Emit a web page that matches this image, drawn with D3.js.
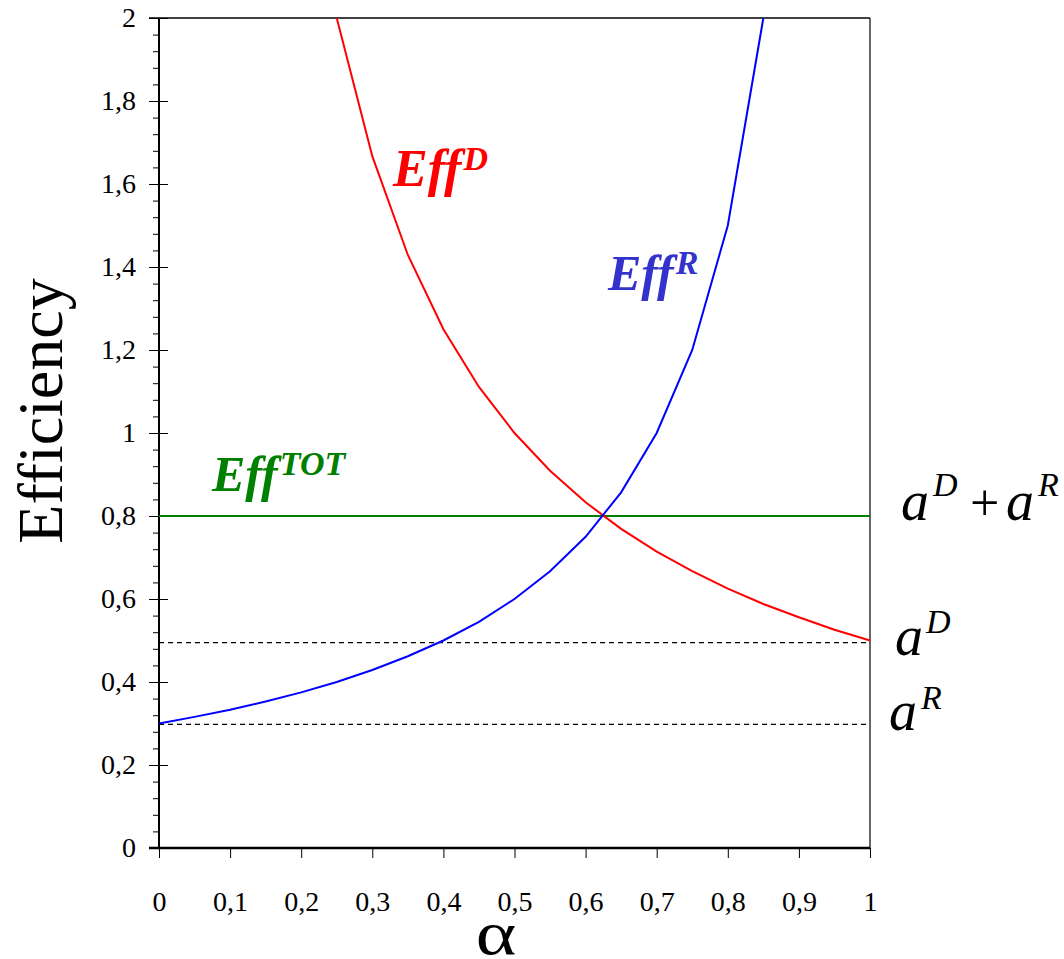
<!DOCTYPE html>
<html>
<head>
<meta charset="utf-8">
<script src="https://cdn.jsdelivr.net/npm/d3@7"></script>
<style>
  body { margin: 0; background: #fff; }
  svg { font-family: "Liberation Serif", "DejaVu Serif", serif; }
  .domain { display: none; }
</style>
</head>
<body>
<div id="chart"></div>
<script>
// values
var alphaD = [0.25, 0.3, 0.35, 0.4, 0.45, 0.5, 0.55, 0.6, 0.65, 0.7, 0.75, 0.8, 0.85, 0.9, 0.95, 1];
var effD = [2.0, 1.667, 1.429, 1.25, 1.111, 1.0, 0.909, 0.833, 0.769, 0.714, 0.667, 0.625, 0.588, 0.556, 0.526, 0.5];
var alphaR = [0, 0.05, 0.1, 0.15, 0.2, 0.25, 0.3, 0.35, 0.4, 0.45, 0.5, 0.55, 0.6, 0.65, 0.7, 0.75, 0.8, 0.85];
var effR = [0.3, 0.316, 0.333, 0.353, 0.375, 0.4, 0.429, 0.462, 0.5, 0.545, 0.6, 0.667, 0.75, 0.857, 1.0, 1.2, 1.5, 2.0];
var effTot = 0.8;
var aD = 0.495;
var aR = 0.298;
var xTicks = [0, 0.1, 0.2, 0.3, 0.4, 0.5, 0.6, 0.7, 0.8, 0.9, 1];
var yTicks = [0, 0.2, 0.4, 0.6, 0.8, 1, 1.2, 1.4, 1.6, 1.8, 2];

var outwidth = 1064, outheight = 959;
var margin = { left: 159, top: 18, right: 194, bottom: 111 };
var width = outwidth - margin.left - margin.right;
var height = outheight - margin.top - margin.bottom;

var svg = d3.select("#chart").append("svg")
    .attr("width", outwidth)
    .attr("height", outheight);
var g = svg.append("g")
    .attr("transform", `translate(${margin.left},${margin.top})`);

var x = d3.scaleLinear().domain([0, 1]).range([0, width]);
var y = d3.scaleLinear().domain([0, 2]).range([height, 0]);

var fmt = d => String(d).replace(".", ",");

// minor ticks on y
var minor = d3.range(0, 2.0001, 0.04).filter(v => Math.abs(v / 0.2 - Math.round(v / 0.2)) > 0.01);
g.append("g").call(d3.axisLeft(y).tickValues(minor).tickSize(6).tickFormat(""));
// major ticks crossing the axis
g.append("g").call(d3.axisRight(y).tickValues(yTicks).tickSize(9).tickFormat(""));
g.append("g").call(d3.axisLeft(y).tickValues(yTicks).tickSize(10).tickPadding(13).tickFormat(fmt))
    .attr("font-family", null).attr("font-size", null)
    .selectAll("text").style("font-size", "28px").attr("fill", "#000");

g.append("g").attr("transform", `translate(0,${height})`)
    .call(d3.axisBottom(x).tickValues(xTicks).tickSize(10).tickPadding(33).tickFormat(fmt))
    .attr("font-family", null).attr("font-size", null)
    .selectAll("text").style("font-size", "28px").attr("fill", "#000");

// frame
g.append("line").attr("x1", -10).attr("x2", width).attr("y1", 0).attr("y2", 0)
    .attr("stroke", "#000").attr("stroke-width", 1.5);
g.append("line").attr("x1", width).attr("x2", width).attr("y1", 0).attr("y2", height)
    .attr("stroke", "#000").attr("stroke-width", 1.2);
g.append("line").attr("x1", 0).attr("x2", 0).attr("y1", 0).attr("y2", height)
    .attr("stroke", "#000").attr("stroke-width", 2);
g.append("line").attr("x1", -10).attr("x2", width).attr("y1", height).attr("y2", height)
    .attr("stroke", "#000").attr("stroke-width", 2.5);

// dashed reference lines
[aD, aR].forEach(function (v) {
    g.append("line").attr("x1", 0).attr("x2", width)
        .attr("y1", y(v)).attr("y2", y(v))
        .attr("stroke", "#000").attr("stroke-width", 1.2)
        .attr("stroke-dasharray", "5,4");
});

g.append("line").attr("x1", 0).attr("x2", width)
    .attr("y1", y(effTot)).attr("y2", y(effTot))
    .attr("stroke", "#008000").attr("stroke-width", 2);

var line = d3.line().x(d => x(d[0])).y(d => y(d[1]));
g.append("path").datum(d3.zip(alphaD, effD)).attr("d", line)
    .attr("fill", "none").attr("stroke", "#ff0000").attr("stroke-width", 2);
g.append("path").datum(d3.zip(alphaR, effR)).attr("d", line)
    .attr("fill", "none").attr("stroke", "#0000ff").attr("stroke-width", 2);

// curve labels
function effLabel(px, py, sup, color, size) {
    var t = svg.append("text").attr("x", px).attr("y", py)
        .attr("fill", color).style("font-weight", "bold").style("font-style", "italic");
    t.append("tspan").text("Eff").style("font-size", size + "px");
    t.append("tspan").text(sup).style("font-size", "34px").attr("dx", 2).attr("dy", -16);
}
effLabel(393, 186, "D", "#ff0000", 52);
effLabel(608, 290, "R", "#3333cc", 50);
effLabel(212, 491, "TOT", "#008000", 50);

// right side annotations: [text, x, baseline, size, italic]
function aLabel(parts) {
    var t = svg.append("text").attr("fill", "#000");
    parts.forEach(function (p) {
        t.append("tspan").text(p[0]).attr("x", p[1]).attr("y", p[2])
            .style("font-size", p[3] + "px")
            .style("font-style", p[4] ? "italic" : "normal");
    });
}
aLabel([["a", 901, 520, 56, true], ["D", 933, 496, 34, true],
        ["+", 970, 520, 52, false], ["a", 1006, 520, 56, true], ["R", 1038, 496, 34, true]]);
aLabel([["a", 895, 655, 56, true], ["D", 926, 633, 34, true]]);
aLabel([["a", 889, 730, 56, true], ["R", 921, 709, 34, true]]);

// axis titles
svg.append("text").attr("transform", "translate(496,954) scale(1.25,1)")
    .attr("text-anchor", "middle").style("font-size", "62px").text("α");
svg.append("text").attr("transform", "translate(62,411) rotate(-90)")
    .attr("text-anchor", "middle").style("font-size", "64px").text("Efficiency");
</script>
</body>
</html>
